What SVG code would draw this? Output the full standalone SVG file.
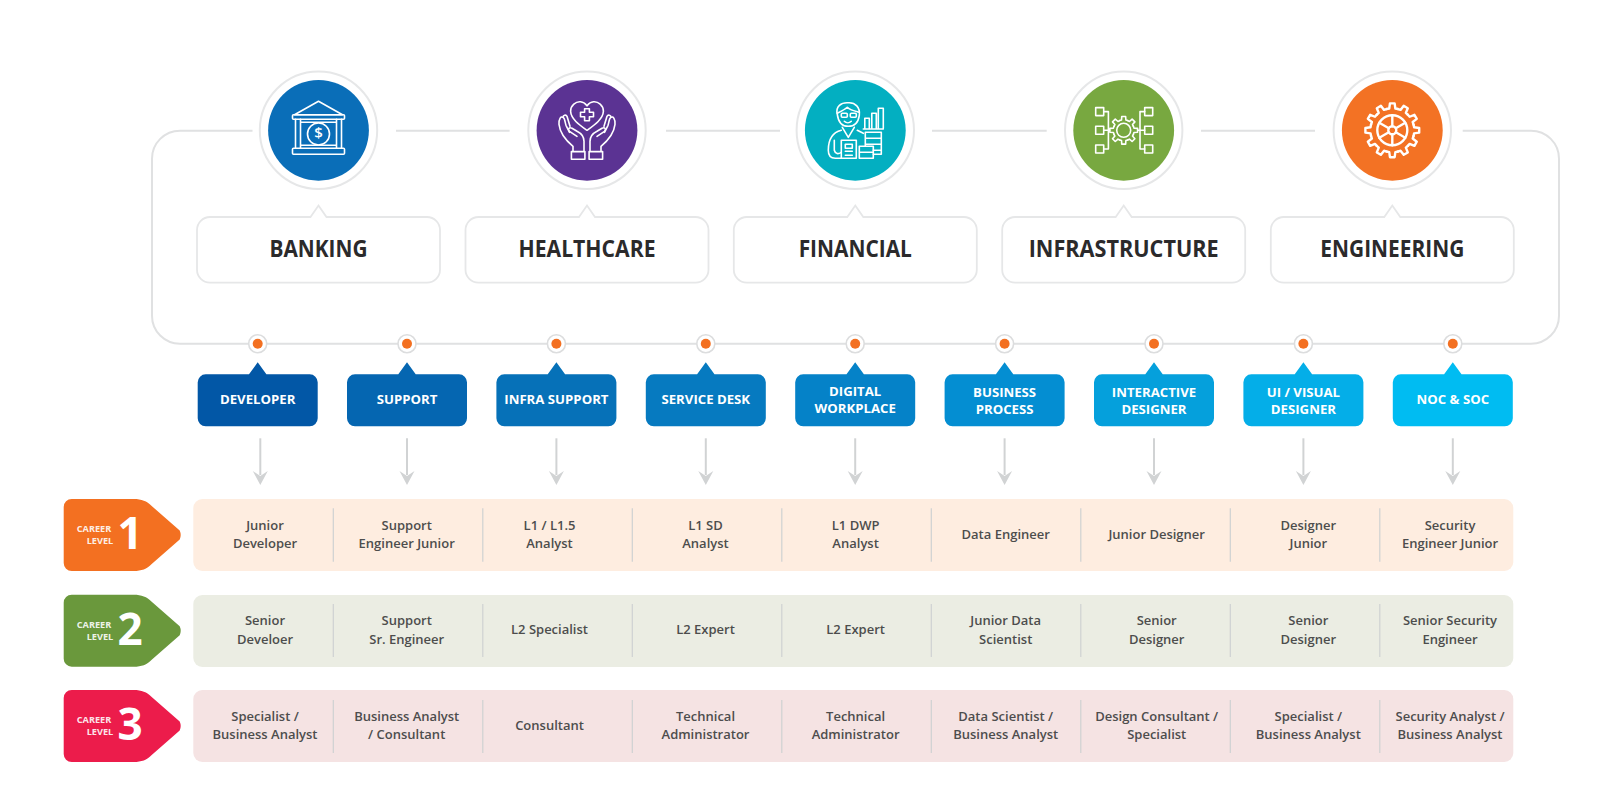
<svg xmlns="http://www.w3.org/2000/svg" width="1601" height="792" viewBox="0 0 1601 792">
<style>
text{font-family:"Open Sans","Noto Sans","DejaVu Sans",sans-serif;text-anchor:middle}
.ln{fill:none;stroke:#e0e1e2;stroke-width:2}
.ring{fill:#fff;stroke:#e6e7e8;stroke-width:2}
.bub{fill:#fff;stroke:#e6e7e8;stroke-width:1.8}
.h{font-size:22.5px;font-weight:700;fill:#2b2a2b}
.ic{fill:none;stroke:#fff;stroke-width:1.6;stroke-linejoin:round;stroke-linecap:round}
.dot{fill:#fff;stroke:#dcddde;stroke-width:1.6}
.or{fill:#f37021}
.b{font-size:13.2px;font-weight:700;fill:#fff}
.arw{fill:none;stroke:#d1d3d4;stroke-width:2}
.tip{fill:#d1d3d4}
.div{stroke:#cfd1d2;stroke-width:1.2}
.c{font-size:13px;font-weight:600;fill:#4d4d4d}
.k{font-size:9.2px;font-weight:700;fill:#fff;fill-opacity:.9}
.n{font-size:44px;font-weight:700;fill:#fff}
</style>
<defs>
<path id="bubble" d="M-8 217L0 205.500L8 217H108.500a13 13 0 0 1 13 13V269.700a13 13 0 0 1-13 13H-108.500a13 13 0 0 1-13-13V230a13 13 0 0 1 13-13Z"/>
<path id="tag" d="M-60 382.300a8 8 0 0 1 8-8H-8.700L0 362.300L8.700 374.300H52a8 8 0 0 1 8 8V418.300a8 8 0 0 1-8 8H-52a8 8 0 0 1-8-8Z"/>
<path id="arrowhead" d="M-7.500 471L0 476L7.500 471L0 485Z"/>
<path id="lvl" d="M0 8a8 8 0 0 1 8-8H70C78 0 83 2 88 7L116 31.500Q118 36 116 40.500L88 65C83 70 78 72 70 72H8a8 8 0 0 1-8-8Z"/>
<path id="t1" d="M-5.690-21.250L-3.060-21.790L-2.350-26.900H2.350L3.060-21.790L5.690-21.250"/>
<path id="t2" d="M-4.020-9.700L-2.180-10.270L-1.950-13.860H1.950L2.180-10.270L4.020-9.700"/>
<g id="handL">
<path d="M-14 21V16C-20 11-27 3-28-6C-28.500-11-26-14.500-24-13C-22-12-22-8-21-5L-17.500 2"/>
<path d="M-24-13C-24-15-21-16-20-14L-17-4"/>
<path d="M-3 21V11C-3 6-6 3-10 1L-15-2C-18-3.500-19.500-1-17.500 1L-10 6"/>
<rect x="-15.600" y="21.300" width="13.500" height="7.700"/>
</g>
</defs>

<g id="connectors">
<path class="ln" d="M252.500 130.700H180a28 28 0 0 0-28 28V315.700a28 28 0 0 0 28 28H1531a28 28 0 0 0 28-28V158.700a28 28 0 0 0-28-28H1462.700"/>
<path class="ln" d="M396 130.700H509.600M666 130.700H780M932 130.700H1046.700M1201 130.700H1315"/>
<g id="arrows">
<g transform="translate(260.300 0)"><path class="arw" d="M0 438.300V475"/><use href="#arrowhead" class="tip"/></g>
<g transform="translate(407 0)"><path class="arw" d="M0 438.300V475"/><use href="#arrowhead" class="tip"/></g>
<g transform="translate(556.400 0)"><path class="arw" d="M0 438.300V475"/><use href="#arrowhead" class="tip"/></g>
<g transform="translate(705.800 0)"><path class="arw" d="M0 438.300V475"/><use href="#arrowhead" class="tip"/></g>
<g transform="translate(855.200 0)"><path class="arw" d="M0 438.300V475"/><use href="#arrowhead" class="tip"/></g>
<g transform="translate(1004.600 0)"><path class="arw" d="M0 438.300V475"/><use href="#arrowhead" class="tip"/></g>
<g transform="translate(1154 0)"><path class="arw" d="M0 438.300V475"/><use href="#arrowhead" class="tip"/></g>
<g transform="translate(1303.400 0)"><path class="arw" d="M0 438.300V475"/><use href="#arrowhead" class="tip"/></g>
<g transform="translate(1452.800 0)"><path class="arw" d="M0 438.300V475"/><use href="#arrowhead" class="tip"/></g>
</g>
<g id="dots">
<g transform="translate(257.700 343.700)"><circle class="dot" r="9"/><circle class="or" r="5"/></g>
<g transform="translate(407 343.700)"><circle class="dot" r="9"/><circle class="or" r="5"/></g>
<g transform="translate(556.400 343.700)"><circle class="dot" r="9"/><circle class="or" r="5"/></g>
<g transform="translate(705.800 343.700)"><circle class="dot" r="9"/><circle class="or" r="5"/></g>
<g transform="translate(855.200 343.700)"><circle class="dot" r="9"/><circle class="or" r="5"/></g>
<g transform="translate(1004.600 343.700)"><circle class="dot" r="9"/><circle class="or" r="5"/></g>
<g transform="translate(1154 343.700)"><circle class="dot" r="9"/><circle class="or" r="5"/></g>
<g transform="translate(1303.400 343.700)"><circle class="dot" r="9"/><circle class="or" r="5"/></g>
<g transform="translate(1452.800 343.700)"><circle class="dot" r="9"/><circle class="or" r="5"/></g>
</g>
</g>

<g id="banking">
<circle class="ring" cx="318.500" cy="130.300" r="58.700"/><circle cx="318.500" cy="130.300" r="50.400" fill="#0a6eb8"/>
<g class="ic" transform="translate(318.500 130.300)">
<path d="M0-29L-24-15.500H24Z"/><rect x="-26" y="-15.500" width="52" height="4.500" rx="1"/>
<path d="M-23-11V18M-18-11V18M18-11V18M23-11V18M-18-8H18M-18 15H18"/>
<rect x="-26" y="18" width="52" height="6" rx="1"/><circle cx="0" cy="3.700" r="11"/>
</g>
<text x="318.500" y="138.200" style="font-size:15px;font-weight:600;fill:#fff">$</text>
<use href="#bubble" x="318.500" class="bub"/>
<text class="h" x="318.500" y="256.500" textLength="98" lengthAdjust="spacingAndGlyphs">BANKING</text>
</g>

<g id="healthcare">
<circle class="ring" cx="587" cy="130.300" r="58.700"/><circle cx="587" cy="130.300" r="50.400" fill="#5b3393"/>
<g class="ic" transform="translate(587 130.300)">
<path d="M0 0C-7-5-16-11-16.400-19C-16.500-25-11-29-6.500-28.500C-3.500-28.200-1.500-26.500 0-24.500C1.500-26.500 3.500-28.200 6.500-28.500C11-29 16.500-25 16.400-19C16-11 7-5 0 0Z"/>
<path d="M-2.400-21.500H2.400V-18H6.500V-13.500H2.400V-9.500H-2.400V-13.500H-6.500V-18H-2.400Z"/>
<use href="#handL"/><use href="#handL" transform="scale(-1 1)"/>
</g>
<use href="#bubble" x="587" class="bub"/>
<text class="h" x="587" y="256.500" textLength="137" lengthAdjust="spacingAndGlyphs">HEALTHCARE</text>
</g>

<g id="financial">
<circle class="ring" cx="855.300" cy="130.300" r="58.700"/><circle cx="855.300" cy="130.300" r="50.400" fill="#03afc1"/>
<g class="ic" transform="translate(855.300 130.300)">
<path d="M-18-16C-20-24-14-28-7-27.500C0-28 5-23 4-15C3-8-1-4-7-4C-13-4-17-8-18-16Z"/>
<path d="M-18-17C-14-19-10-21-8-23C-5-20 0-19 4-18"/>
<rect x="-14" y="-17" width="6" height="4" rx="1"/><rect x="-5" y="-17" width="6" height="4" rx="1"/>
<path d="M-11-9C-9-7-6-7-4-9M-13-3L-7 7L-1-3M-14 0C-22 2-27 9-27 20C-27 26-24 28-20 28H-14M-21 10V20C-20 24-17 24-14 22M2 0L8 3"/>
<rect x="-14" y="10" width="15" height="18"/><path d="M-10 14H-3V18H-10ZM-10 21H-3M-10 25H-3"/>
<path d="M9.500-2V-12H14V-2M16.500-2V-17H21V-2M23-2V-22H28V-2M8-1.300H28"/>
<path d="M10 2H26V24H18M10 2V16M10 8H26M10 14H26M18 20H26"/>
<path d="M4 16H18V28H4ZM4 22H18"/>
</g>
<use href="#bubble" x="855.300" class="bub"/>
<text class="h" x="855.300" y="256.500" textLength="113.300" lengthAdjust="spacingAndGlyphs">FINANCIAL</text>
</g>

<g id="infrastructure">
<circle class="ring" cx="1123.700" cy="130.300" r="58.700"/><circle cx="1123.700" cy="130.300" r="50.400" fill="#78a840"/>
<g class="ic" transform="translate(1123.700 130.300)">
<rect x="-28" y="-22.700" width="8" height="8"/><rect x="-28" y="-4" width="8" height="8"/><rect x="-28" y="14.700" width="8" height="8"/>
<rect x="21" y="-22.700" width="8" height="8"/><rect x="21" y="-4" width="8" height="8"/><rect x="21" y="14.700" width="8" height="8"/>
<path d="M-20-18.700H-15.300V18.700H-20M-20 0H-14M21-18.700H16.300V18.700H21M21 0H14"/>
<circle r="7"/>
<use href="#t2"/><use href="#t2" transform="rotate(45)"/><use href="#t2" transform="rotate(90)"/><use href="#t2" transform="rotate(135)"/><use href="#t2" transform="rotate(180)"/><use href="#t2" transform="rotate(225)"/><use href="#t2" transform="rotate(270)"/><use href="#t2" transform="rotate(315)"/>
</g>
<use href="#bubble" x="1123.700" class="bub"/>
<text class="h" x="1123.700" y="256.500" textLength="190" lengthAdjust="spacingAndGlyphs">INFRASTRUCTURE</text>
</g>

<g id="engineering">
<circle class="ring" cx="1392.300" cy="130.300" r="58.700"/><circle cx="1392.300" cy="130.300" r="50.400" fill="#f37224"/>
<g class="ic" style="stroke-width:2.400" transform="translate(1392.300 130.300)">
<use href="#t1"/><use href="#t1" transform="rotate(30)"/><use href="#t1" transform="rotate(60)"/><use href="#t1" transform="rotate(90)"/><use href="#t1" transform="rotate(120)"/><use href="#t1" transform="rotate(150)"/><use href="#t1" transform="rotate(180)"/><use href="#t1" transform="rotate(210)"/><use href="#t1" transform="rotate(240)"/><use href="#t1" transform="rotate(270)"/><use href="#t1" transform="rotate(300)"/><use href="#t1" transform="rotate(330)"/>
<circle r="15"/><circle r="4"/>
<path d="M0-4V-15M0 4V15M-3.500-2L-13-7.500M3.500 2L13 7.500M-3.500 2L-13 7.500M3.500-2L13-7.500"/>
</g>
<use href="#bubble" x="1392.300" class="bub"/>
<text class="h" x="1392.300" y="256.500" textLength="144" lengthAdjust="spacingAndGlyphs">ENGINEERING</text>
</g>

<g id="developer"><use href="#tag" x="257.700" fill="#0257a6"/><text class="b" x="257.700" y="404.300">DEVELOPER</text></g>
<g id="support"><use href="#tag" x="407" fill="#0566b1"/><text class="b" x="407" y="404.300">SUPPORT</text></g>
<g id="infra-support"><use href="#tag" x="556.400" fill="#0671b8"/><text class="b" x="556.400" y="404.300">INFRA SUPPORT</text></g>
<g id="service-desk"><use href="#tag" x="705.800" fill="#067ac0"/><text class="b" x="705.800" y="404.300">SERVICE DESK</text></g>
<g id="digital-workplace"><use href="#tag" x="855.200" fill="#0582c8"/><text class="b" x="855.200" y="396.300">DIGITAL</text><text class="b" x="855.200" y="413.300">WORKPLACE</text></g>
<g id="business-process"><use href="#tag" x="1004.600" fill="#048ed2"/><text class="b" x="1004.600" y="397.300">BUSINESS</text><text class="b" x="1004.600" y="414.300">PROCESS</text></g>
<g id="interactive-designer"><use href="#tag" x="1154" fill="#05a0dc"/><text class="b" x="1154" y="397.300">INTERACTIVE</text><text class="b" x="1154" y="414.300">DESIGNER</text></g>
<g id="ui-visual-designer"><use href="#tag" x="1303.400" fill="#04aee8"/><text class="b" x="1303.400" y="397.300">UI / VISUAL</text><text class="b" x="1303.400" y="414.300">DESIGNER</text></g>
<g id="noc-soc"><use href="#tag" x="1452.800" fill="#00bcf2"/><text class="b" x="1452.800" y="404.300">NOC &amp; SOC</text></g>

<g id="level-1">
<use href="#lvl" transform="translate(63.700 499)" fill="#f37021"/>
<text class="k" x="94" y="532">CAREER</text><text class="k" x="100" y="544.300">LEVEL</text>
<text class="n" x="130" y="549">1</text>
<rect x="193.300" y="499" width="1320" height="72" rx="9" fill="#feede0"/>
<path class="div" d="M333.300 508.300V561.700M482.800 508.300V561.700M632.300 508.300V561.700M781.800 508.300V561.700M931.300 508.300V561.700M1080.800 508.300V561.700M1230.300 508.300V561.700M1379.800 508.300V561.700"/>
<text class="c" x="265" y="530.300">Junior</text><text class="c" x="265" y="548">Developer</text>
<text class="c" x="406.700" y="530.300">Support</text><text class="c" x="406.700" y="548">Engineer Junior</text>
<text class="c" x="549.500" y="530.300">L1 / L1.5</text><text class="c" x="549.500" y="548">Analyst</text>
<text class="c" x="705.500" y="530.300">L1 SD</text><text class="c" x="705.500" y="548">Analyst</text>
<text class="c" x="855.600" y="530.300">L1 DWP</text><text class="c" x="855.600" y="548">Analyst</text>
<text class="c" x="1005.700" y="538.700">Data Engineer</text>
<text class="c" x="1156.700" y="538.700">Junior Designer</text>
<text class="c" x="1308.300" y="530.300">Designer</text><text class="c" x="1308.300" y="548">Junior</text>
<text class="c" x="1450" y="530.300">Security</text><text class="c" x="1450" y="548">Engineer Junior</text>
</g>

<g id="level-2">
<use href="#lvl" transform="translate(63.700 594.700)" fill="#6a983c"/>
<text class="k" x="94" y="627.700">CAREER</text><text class="k" x="100" y="640">LEVEL</text>
<text class="n" x="130" y="645">2</text>
<rect x="193.300" y="595" width="1320" height="72" rx="9" fill="#ebede3"/>
<path class="div" d="M333.300 604V657M482.800 604V657M632.300 604V657M781.800 604V657M931.300 604V657M1080.800 604V657M1230.300 604V657M1379.800 604V657"/>
<text class="c" x="265" y="625.300">Senior</text><text class="c" x="265" y="643.500">Develoer</text>
<text class="c" x="406.700" y="625.300">Support</text><text class="c" x="406.700" y="643.500">Sr. Engineer</text>
<text class="c" x="549.500" y="634">L2 Specialist</text>
<text class="c" x="705.500" y="634">L2 Expert</text>
<text class="c" x="855.600" y="634">L2 Expert</text>
<text class="c" x="1005.700" y="625.300">Junior Data</text><text class="c" x="1005.700" y="643.500">Scientist</text>
<text class="c" x="1156.700" y="625.300">Senior</text><text class="c" x="1156.700" y="643.500">Designer</text>
<text class="c" x="1308.300" y="625.300">Senior</text><text class="c" x="1308.300" y="643.500">Designer</text>
<text class="c" x="1450" y="625.300">Senior Security</text><text class="c" x="1450" y="643.500">Engineer</text>
</g>

<g id="level-3">
<use href="#lvl" transform="translate(63.700 690)" fill="#ec1c4b"/>
<text class="k" x="94" y="722.700">CAREER</text><text class="k" x="100" y="735">LEVEL</text>
<text class="n" x="130" y="740">3</text>
<rect x="193.300" y="690" width="1320" height="72" rx="9" fill="#f5e3e3"/>
<path class="div" d="M333.300 700V753M482.800 700V753M632.300 700V753M781.800 700V753M931.300 700V753M1080.800 700V753M1230.300 700V753M1379.800 700V753"/>
<text class="c" x="265" y="721">Specialist /</text><text class="c" x="265" y="739">Business Analyst</text>
<text class="c" x="406.700" y="721">Business Analyst</text><text class="c" x="406.700" y="739">/ Consultant</text>
<text class="c" x="549.500" y="729.500">Consultant</text>
<text class="c" x="705.500" y="721">Technical</text><text class="c" x="705.500" y="739">Administrator</text>
<text class="c" x="855.600" y="721">Technical</text><text class="c" x="855.600" y="739">Administrator</text>
<text class="c" x="1005.700" y="721">Data Scientist /</text><text class="c" x="1005.700" y="739">Business Analyst</text>
<text class="c" x="1156.700" y="721">Design Consultant /</text><text class="c" x="1156.700" y="739">Specialist</text>
<text class="c" x="1308.300" y="721">Specialist /</text><text class="c" x="1308.300" y="739">Business Analyst</text>
<text class="c" x="1450" y="721">Security Analyst /</text><text class="c" x="1450" y="739">Business Analyst</text>
</g>
</svg>
